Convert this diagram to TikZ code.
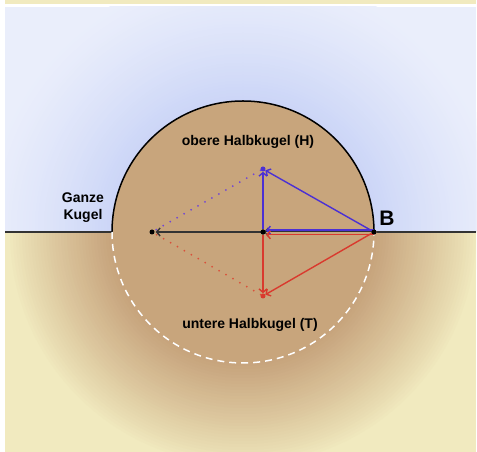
\documentclass[tikz,border=0pt]{standalone}
\usepackage{fontspec}
\setmainfont{Liberation Sans}
\usetikzlibrary{arrows.meta}
\definecolor{bgblue}{HTML}{EAEEFB}
\definecolor{glowblue}{HTML}{CBD5F7}
\definecolor{bgyel}{HTML}{F1EABF}
\definecolor{glowbrown}{HTML}{C6A27B}
\definecolor{spherefill}{HTML}{C8A57C}
\definecolor{arrblue}{HTML}{4B30D4}
\definecolor{dotblue}{HTML}{7045D6}
\definecolor{arrred}{HTML}{D93A2E}
\definecolor{dotred}{HTML}{D9503A}
\definecolor{lineblack}{HTML}{333333}
\tikzset{
  pt/.style={circle, fill=#1, inner sep=0pt, minimum size=5pt},
  barb/.style={-{Straight Barb[length=3.5pt,width=8pt]}, line width=1.4pt},
  dotline/.style={line width=2pt, dash pattern=on 0pt off 8pt, line cap=round},
  lbl/.style={font=\bfseries\fontsize{14}{17}\selectfont, text=black, align=center, inner sep=0pt}
}
\begin{document}
\begin{tikzpicture}[x=1pt,y=1pt]
\useasboundingbox (0,0) rectangle (477,452);
\fill[white] (0,0) rectangle (477,452);
\fill[bgyel] (5,448) rectangle (476,452);
% upper panel with glow
\begin{scope}
\clip (5,220) rectangle (476,445);
\fill[bgblue] (5,220) rectangle (476,445);
\foreach \r in {262,259,...,130} {
  \pgfmathsetmacro\t{100*((262-\r)/131)^1.3}
  \fill[glowblue!\t!bgblue] (243,220) circle (\r pt);
}
\end{scope}
% lower panel with glow
\begin{scope}
\clip (5,0) rectangle (476,220);
\fill[bgyel] (5,0) rectangle (476,220);
\foreach \r in {236,233,...,130} {
  \pgfmathsetmacro\t{100*((236-\r)/105)^0.9}
  \fill[glowbrown!\t!bgyel] (243,220) circle (\r pt);
}
\end{scope}
% sphere
\fill[spherefill] (243,220) circle (131pt);
\coordinate (GL) at (5,220);
\coordinate (KL) at (112,220);
\coordinate (GR) at (476,220);
\draw[lineblack, line width=2pt] (GL) -- (KL);
\draw[black, line width=1.5pt] (KL) arc[start angle=180, end angle=0, radius=131pt];
\draw[white, line width=1.5pt, dash pattern=on 7pt off 5pt] (KL) arc[start angle=180, end angle=360, radius=131pt];
% points
\node[pt=black] (L) at (152,220) {};
\node[pt=black] (M) at (263,220) {};
\node[pt=black] (B) at (374,220) {};
\node[pt=arrblue] (H) at (263,283) {};
\node[pt=arrred] (T) at (263,156) {};
\draw[lineblack, line width=2pt] (B) -- (GR);
% dotted
\draw[dotblue, dotline] (H) -- (L);
\draw[dotred, dotline] (T) -- (L);
% arrows
\draw[barb, lineblack, shorten >=1pt] (M.center) -- (L);
\draw[barb, lineblack, line width=1pt, shorten >=1pt] (B.center) -- (M.center);
\draw[barb, arrblue, shorten >=3pt] ([yshift=1.8pt]B.center) -- ([yshift=1.8pt]M.center);
\draw[barb, arrred, shorten >=3pt] ([yshift=-2.8pt]B.center) -- ([yshift=-2.8pt]M.center);
\draw[barb, arrblue] (M) -- (H);
\draw[barb, arrblue] (B) -- (H);
\draw[barb, arrred] (M) -- (T);
\draw[barb, arrred] (B) -- (T);
\node[pt=black] at (M) {};
\node[pt=black] at (B) {};
% labels
\node[lbl] (ganze) at (83,244) {Ganze\\Kugel};
\node[lbl] (obere) at (248,310) {obere Halbkugel (H)};
\node[lbl] (untere) at (250,127) {untere Halbkugel (T)};
\node[font=\bfseries\fontsize{21}{24}\selectfont, inner sep=0pt] (blbl) at (387,234) {B};
\end{tikzpicture}
\end{document}
